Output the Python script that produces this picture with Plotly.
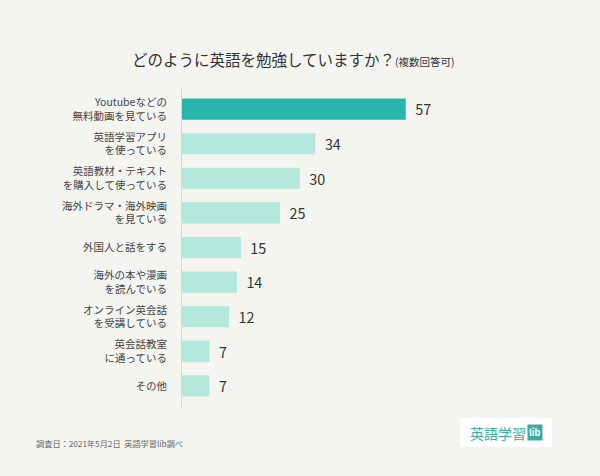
import plotly.graph_objects as go

categories = [
    "Youtubeなどの<br>無料動画を見ている",
    "英語学習アプリ<br>を使っている",
    "英語教材・テキスト<br>を購入して使っている",
    "海外ドラマ・海外映画<br>を見ている",
    "外国人と話をする",
    "海外の本や漫画<br>を読んでいる",
    "オンライン英会話<br>を受講している",
    "英会話教室<br>に通っている",
    "その他",
]
values = [57, 34, 30, 25, 15, 14, 12, 7, 7]

TEAL = "#27b5ae"
MINT = "#b3e8da"
BG = "#f4f5f1"
FONT = "Noto Sans CJK JP"

# plot area in pixels, used to place the extra texts
L, R, T, B = 182, 102, 87, 68
W, H = 600, 476
pw, ph = W - L - R, H - T - B


def px(x):
    return (x - L) / pw


def py(y):
    return (H - B - y) / ph


colors = [TEAL] + [MINT] * (len(values) - 1)

fig = go.Figure(
    go.Bar(
        x=values,
        y=categories,
        orientation="h",
        marker=dict(color=colors, line_width=0),
        text=values,
        texttemplate="\u00a0\u00a0%{text}",
        textposition="outside",
        textfont=dict(size=17, color="#333333", family=FONT),
        cliponaxis=False,
    )
)

fig.update_layout(
    width=W,
    height=H,
    margin=dict(l=L, r=R, t=T, b=B),
    paper_bgcolor=BG,
    plot_bgcolor=BG,
    bargap=0.39,
    showlegend=False,
    font=dict(family=FONT),
)
fig.update_xaxes(range=[0, 80.5], visible=False)
fig.update_yaxes(
    categoryorder="array",
    categoryarray=categories,
    range=[len(categories) - 0.36, -0.64],
    showline=True,
    linecolor="#d6d6d2",
    linewidth=1,
    showgrid=False,
    ticks="",
    ticklabelstandoff=12,
    tickfont=dict(size=10.5, color="#444444", family=FONT),
)

fig.add_annotation(
    x=px(130), y=py(59), xref="paper", yref="paper",
    xanchor="left", yanchor="middle", showarrow=False,
    text="どのように英語を勉強していますか？<span style='font-size:10.5px'>(複数回答可)</span>",
    font=dict(size=15.5, color="#333333", family=FONT),
)
fig.add_annotation(
    x=px(34), y=py(443), xref="paper", yref="paper",
    xanchor="left", yanchor="middle", showarrow=False,
    text="調査日：2021年5月2日  英語学習lib調べ",
    font=dict(size=8.2, color="#666666", family=FONT),
)

# logo
fig.add_shape(
    type="rect", xref="paper", yref="paper",
    x0=px(460), x1=px(552), y0=py(447), y1=py(418),
    fillcolor="#ffffff", line_width=0, layer="below",
)
fig.add_annotation(
    x=px(468), y=py(433), xref="paper", yref="paper",
    xanchor="left", yanchor="middle", showarrow=False,
    text="英語学習",
    font=dict(size=14, color="#3aaba3", family=FONT),
)
fig.add_annotation(
    x=px(534.5), y=py(433), xref="paper", yref="paper",
    xanchor="center", yanchor="middle", showarrow=False,
    text="<b>lib</b>", bgcolor="#3aaba3", borderpad=1,
    font=dict(size=9, color="#ffffff", family=FONT),
)

fig.write_html(
    "out.html",
    config={"displayModeBar": False},
    post_script="document.body.style.margin='0';document.body.style.background='%s';" % BG,
)
